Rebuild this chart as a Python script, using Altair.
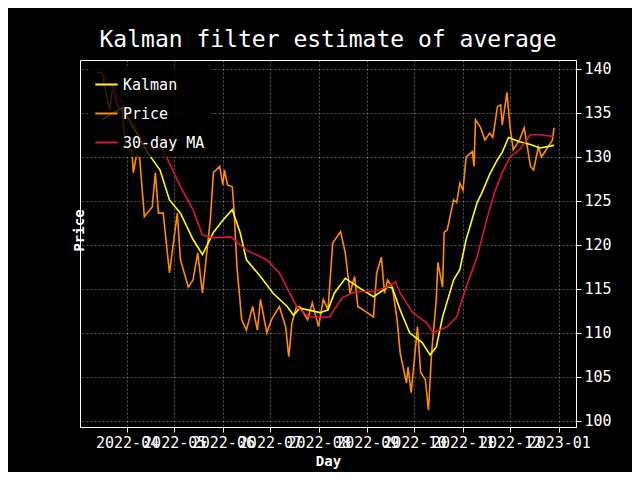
import altair as alt
import pandas as pd

# day of year (Jan 1 = 1) and values
price_day = [72, 75, 80, 82, 85, 88, 90, 94, 95, 97, 99, 102, 107, 109, 111, 114, 116, 118, 123, 125,
             130, 133, 136, 139, 144, 146, 150, 152, 153, 155, 158, 159, 161, 164, 167, 171, 174, 176, 180, 183,
             188, 192, 194, 196, 199, 201, 206, 209, 213, 216, 219, 222, 227, 230, 233, 236, 238, 244, 248, 250,
             253, 255, 257, 260, 263, 265, 269, 270, 272, 276, 278, 281, 283, 285, 288, 289, 292, 293, 295, 299,
             301, 303, 305, 307, 311, 312, 313, 316, 319, 322, 324, 327, 329, 330, 333, 335, 337, 341, 344, 348,
             350, 353, 355, 358, 362, 363]
price_val = [139.6, 139.5, 135.3, 138.2, 135.7, 135.3, 131.1, 130.8, 128.2, 130.2, 129.9, 123.2, 124.3, 128.2, 123.6, 123.6, 120.2, 116.8, 123.6, 118.3,
             115.2, 116.0, 119.1, 114.5, 122.8, 128.2, 128.9, 126.8, 128.5, 126.8, 126.6, 124.3, 117.5, 111.5, 110.3, 113.0, 110.3, 113.8, 110.0, 111.5,
             113.0, 110.7, 107.3, 111.1, 113.0, 113.0, 111.5, 113.4, 110.7, 113.8, 112.6, 120.2, 121.5, 119.1, 114.5, 116.4, 113.0, 112.3, 111.8, 116.8,
             118.6, 114.5, 116.0, 115.2, 111.5, 107.7, 104.3, 106.1, 103.2, 110.7, 105.5, 104.7, 101.2, 107.7, 113.8, 118.0, 115.2, 121.4, 121.7, 125.1,
             124.8, 127.0, 126.2, 130.0, 130.6, 128.9, 134.2, 133.4, 131.9, 132.7, 132.2, 135.7, 135.9, 133.6, 137.3, 133.4, 130.8, 131.9, 133.3, 128.9,
             128.5, 131.1, 130.0, 130.8, 131.9, 133.3]

kalman_day = [75, 88, 104, 112, 118, 125, 133, 139, 146, 152, 158, 163, 167, 176, 184, 193, 197, 201, 214, 219,
              223, 230, 239, 248, 257, 260, 265, 271, 279, 284, 288, 292, 299, 303, 307, 314, 317, 322, 327, 330,
              334, 341, 348, 354, 363]
kalman_val = [134.2, 135.6, 130.5, 128.5, 125.1, 123.6, 120.6, 118.9, 121.4, 122.8, 124.0, 121.4, 118.3, 116.4, 114.5, 113.0, 112.0, 112.8, 112.3, 112.6,
              114.5, 116.2, 115.1, 114.1, 115.2, 115.1, 112.6, 110.0, 108.9, 107.5, 108.4, 111.8, 116.0, 117.2, 120.6, 124.8, 125.9, 128.0, 129.7, 130.5,
              132.2, 131.7, 131.4, 131.0, 131.3]

ma_day = [75, 88, 104, 114, 125, 133, 139, 146, 157, 167, 180, 188, 199, 207, 220, 228, 237, 248, 257, 262,
          265, 273, 282, 286, 295, 301, 307, 314, 320, 325, 330, 335, 341, 348, 354, 363]
ma_val = [139.5, 136.1, 131.0, 130.8, 126.6, 124.0, 121.1, 120.8, 120.9, 119.4, 118.3, 116.8, 113.0, 111.8, 111.8, 114.0, 114.7, 114.7, 115.2, 115.8,
          114.5, 112.3, 111.1, 110.0, 110.7, 111.8, 115.2, 118.6, 122.8, 125.9, 128.2, 130.0, 130.8, 132.5, 132.5, 132.3]

series = ["Kalman", "Price", "30-day MA"]
colors = ["#ffff00", "#ff8c00", "#dc143c"]
month_ticks = ["2022-04-01", "2022-05-01", "2022-06-01", "2022-07-01", "2022-08-01",
               "2022-09-01", "2022-10-01", "2022-11-01", "2022-12-01", "2023-01-01"]


def frame(days, vals, name):
    d = pd.DataFrame({"day": days, "value": vals})
    d["date"] = pd.Timestamp("2022-01-01") + pd.to_timedelta(d["day"] - 1, unit="D")
    d["series"] = name
    return d


FONT = "DejaVu Sans Mono"
grid = dict(gridColor="#bbbbbb", gridDash=[2, 2], gridWidth=0.6, gridOpacity=0.8)

color = alt.Color("series:N", scale=alt.Scale(domain=series, range=colors),
                  legend=alt.Legend(title=None, orient="none", legendX=8, legendY=6,
                                    symbolType="stroke", symbolSize=500, symbolStrokeWidth=2,
                                    labelFontSize=15, labelFont=FONT, labelColor="white",
                                    rowPadding=8, fillColor="rgba(0,0,0,0.8)", padding=6))
x = alt.X("date:T", title="Day",
          scale=alt.Scale(domain=["2022-03-02", "2023-01-12"]),
          axis=alt.Axis(values=month_ticks, format="%Y-%m", labelOverlap=False, labelFlush=False,
                        labelFontSize=15, titleFontSize=14, titleFontWeight="bold", **grid))
y = alt.Y("value:Q", title="Price",
          scale=alt.Scale(domain=[99.3, 141], nice=False, zero=False),
          axis=alt.Axis(orient="right", values=list(range(100, 145, 5)), labelFontSize=15,
                        titleFontSize=14, titleFontWeight="bold",
                        titleAngle=270, titleX=-504, titleY=170, titleAlign="center",
                        titleBaseline="top", **grid))


def line(d):
    return alt.Chart(d).mark_line(strokeWidth=1.6).encode(x=x, y=y, color=color)


chart = alt.layer(
    line(frame(price_day, price_val, "Price")),
    line(frame(kalman_day, kalman_val, "Kalman")),
    line(frame(ma_day, ma_val, "30-day MA")),
).properties(
    width=496, height=367,
    title=alt.Title("Kalman filter estimate of average", fontSize=23, font=FONT,
                    fontWeight="normal", color="white", offset=8),
    autosize=alt.AutoSizeParams(type="none"),
    padding={"left": 72, "top": 52, "right": 56, "bottom": 45},
    background="black",
).configure_view(stroke="white", strokeWidth=1, fill="black").configure_axis(
    labelFont=FONT, titleFont=FONT, labelColor="white", titleColor="white",
    domainColor="white", tickColor="white", tickSize=5, labelPadding=3,
)

chart.save("out.html", embed_options={"renderer": "svg", "actions": False})
